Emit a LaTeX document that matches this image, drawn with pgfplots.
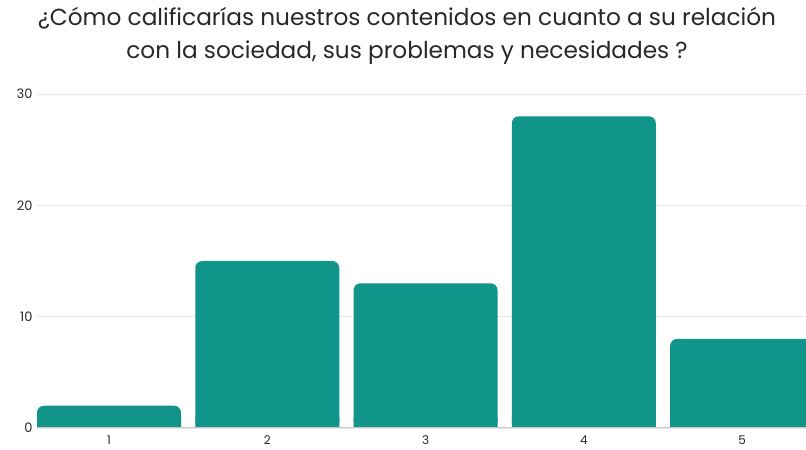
\documentclass[border=0pt]{standalone}
\usepackage{pgfplots}
\pgfplotsset{compat=1.18}
\usepackage{pgfplotstable}
\usepackage{fontspec}
\setmainfont{Poppins}
\definecolor{barc}{RGB}{17,148,138}
\definecolor{gridc}{RGB}{232,232,232}
\definecolor{txt}{RGB}{40,40,40}
\pgfplotstableread{
x v base
1 2 1
2 15 1
3 13 1
4 28 1
5 8 1
}\data
\begin{document}
\begin{tikzpicture}
\path[use as bounding box] (0,0) rectangle (806bp,450bp);
\node[align=center, font=\fontsize{23.2bp}{33bp}\selectfont, text=txt] at (407bp,414.5bp) {¿Cómo calificarías nuestros contenidos en cuanto a su relación\\con la sociedad, sus problemas y necesidades ?};
\begin{axis}[
  at={(37bp,22bp)}, anchor=origin,
  scale only axis, width=769bp, height=334bp,
  xmin=0.545, xmax=5.404, ymin=0, ymax=30,
  ybar, bar width=144bp, bar shift=0pt,
  axis line style={draw=none},
  axis x line*=bottom,
  xtick={1,2,3,4,5}, ytick={0,10,20,30},
  tick style={draw=none},
  ymajorgrids, grid style={gridc, line width=0.8bp},
  xticklabel style={font=\fontsize{12bp}{13bp}\selectfont, text=txt},
  yticklabel style={font=\fontsize{13bp}{14bp}\selectfont, text=txt, xshift=-1bp},
  /pgf/number format/assume math mode=true,
  clip=true,
]
\addplot[fill=barc, draw=none] table[x=x,y=base]{\data};
\addplot[fill=barc, draw=none, rounded corners=7bp] table[x=x,y=v]{\data};
\end{axis}
\draw[gray!45, line width=1bp] (37bp,22bp) -- (806bp,22bp);
\end{tikzpicture}
\end{document}
